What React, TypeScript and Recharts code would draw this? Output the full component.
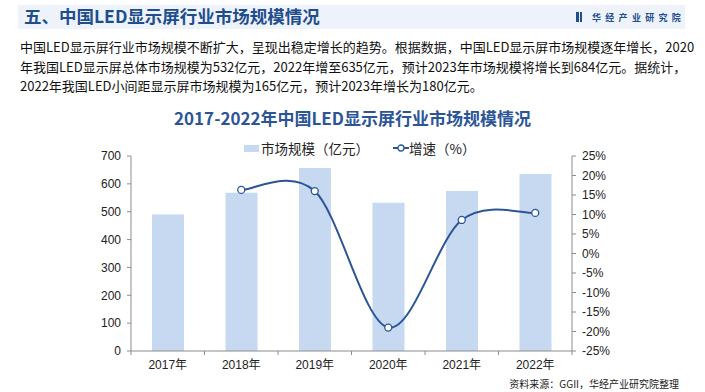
import { Bar, ComposedChart, Line, XAxis, YAxis } from "recharts";

const years = ["2017年", "2018年", "2019年", "2020年", "2021年", "2022年"];
const marketSize = [490, 568, 657, 532, 574, 635];
const growth: (number | null)[] = [null, 16.3, 16.0, -19.0, 8.6, 10.4];
const leftTicks = [0, 100, 200, 300, 400, 500, 600, 700];
const rightTicks = [-25, -20, -15, -10, -5, 0, 5, 10, 15, 20, 25];

const paragraph = [
    "中国LED显示屏行业市场规模不断扩大，呈现出稳定增长的趋势。根据数据，中国LED显示屏市场规模逐年增长，2020",
    "年我国LED显示屏总体市场规模为532亿元，2022年增至635亿元，预计2023年市场规模将增长到684亿元。据统计，",
    "2022年我国LED小间距显示屏市场规模为165亿元，预计2023年增长为180亿元。",
];

const chartData = years.map((year, i) => ({
    year,
    size: marketSize[i],
    growth: growth[i],
}));

const FONT = '"Liberation Sans", "Noto Sans CJK SC", sans-serif';
const CJK = '"Noto Sans CJK SC", "Noto Sans", sans-serif';
const BAR_COLOR = "#c6d9f1";
const LINE_COLOR = "#2b5597";
const AXIS_COLOR = "#8c8c8c";

// smooth curve through the points, like Excel's smoothed line
function smoothCurve(context: any) {
    let pts: [number, number][] = [];
    return {
        areaStart() {},
        areaEnd() {},
        lineStart() {
            pts = [];
        },
        lineEnd() {
            if (!pts.length) return;
            context.moveTo(pts[0][0], pts[0][1]);
            for (let i = 0; i < pts.length - 1; i++) {
                const p0 = pts[i - 1] || pts[i];
                const p1 = pts[i];
                const p2 = pts[i + 1];
                const p3 = pts[i + 2] || p2;
                context.bezierCurveTo(
                    p1[0] + (p2[0] - p0[0]) / 6,
                    p1[1] + (p2[1] - p0[1]) / 6,
                    p2[0] - (p3[0] - p1[0]) / 6,
                    p2[1] - (p3[1] - p1[1]) / 6,
                    p2[0],
                    p2[1]
                );
            }
        },
        point(x: number, y: number) {
            pts.push([+x, +y]);
        },
    };
}

const BAND = 440 / years.length;

function YearTick(props: any) {
    const { x, y, payload, index } = props;
    const half = payload?.offset || BAND / 2;
    return (
        <g>
            <line x1={x - half} x2={x - half} y1={y - 9} y2={y - 5} stroke={AXIS_COLOR} />
            {index === years.length - 1 && (
                <line x1={x + half} x2={x + half} y1={y - 9} y2={y - 5} stroke={AXIS_COLOR} />
            )}
            <text x={x} y={y} dy="0.71em" textAnchor="middle" fontSize={12} fill="#222" fontFamily={FONT}>
                {payload.value}
            </text>
        </g>
    );
}

export default function App() {
    return (
        <div style={{ position: "absolute", left: 0, top: 0, width: 705, height: 392, background: "#fff", overflow: "hidden" }}>
            {/* header band */}
            <div style={{ position: "absolute", left: 18, top: 5, width: 667, height: 24, background: "#eef3fb" }} />
            <div style={{ position: "absolute", left: 24, top: 4, height: 24, lineHeight: "24px", fontFamily: CJK, fontSize: 17.5, fontWeight: 700, color: "#1f4e8c", whiteSpace: "nowrap" }}>
                五、中国LED显示屏行业市场规模情况
            </div>
            <div style={{ position: "absolute", left: 576, top: 5, height: 24, display: "flex", alignItems: "center", fontFamily: CJK, fontSize: 9, fontWeight: 700, color: "#1f4e8c", whiteSpace: "nowrap", letterSpacing: 4.3 }}>
                <span style={{ display: "inline-block", width: 2.5, height: 10, background: "#1f4e8c", marginRight: 1 }} />
                <span style={{ display: "inline-block", width: 2.5, height: 10, background: "#1f4e8c", marginRight: 10 }} />
                <span>华经产业研究院</span>
            </div>

            {/* paragraph */}
            <div style={{ position: "absolute", left: 20, top: 37, fontFamily: CJK, fontSize: 13, color: "#111", lineHeight: "19.5px" }}>
                {paragraph.map((line, i) => (
                    <div key={i} style={{ whiteSpace: "nowrap" }}>
                        {line}
                    </div>
                ))}
            </div>

            {/* chart title */}
            <div style={{ position: "absolute", left: 0, width: 705, top: 105, textAlign: "center", fontFamily: CJK, fontSize: 17, fontWeight: 700, color: "#2b5597", whiteSpace: "nowrap" }}>
                2017-2022年中国LED显示屏行业市场规模情况
            </div>

            {/* legend */}
            <div style={{ position: "absolute", left: 244, top: 139, height: 18, display: "flex", alignItems: "center", fontFamily: CJK, fontSize: 13.5, color: "#222", whiteSpace: "nowrap" }}>
                <span style={{ display: "inline-block", width: 15, height: 7, background: BAR_COLOR, marginRight: 2 }} />
                <span>市场规模（亿元）</span>
                <svg width={16} height={10} style={{ marginLeft: 24 }}>
                    <line x1={0} x2={16} y1={5} y2={5} stroke={LINE_COLOR} strokeWidth={2} />
                    <circle cx={8} cy={5} r={3} fill="#fff" stroke={LINE_COLOR} strokeWidth={1.3} />
                </svg>
                <span>增速（%）</span>
            </div>

            <div style={{ position: "absolute", left: 0, top: 0 }}>
                <ComposedChart
                    width={705}
                    height={392}
                    data={chartData}
                    margin={{ top: 156, right: 73, bottom: 11, left: 71 }}
                >
                    <XAxis
                        dataKey="year"
                        stroke={AXIS_COLOR}
                        tickLine={false}
                        tick={<YearTick />}
                        tickSize={0}
                        tickMargin={9}
                        height={30}
                        interval={0}
                    />
                    <YAxis
                        yAxisId="left"
                        domain={[0, 700]}
                        ticks={leftTicks}
                        stroke={AXIS_COLOR}
                        tickSize={4}
                        tickMargin={6}
                        width={60}
                        interval={0}
                        tick={{ fontSize: 12, fill: "#222", fontFamily: FONT }}
                    />
                    <YAxis
                        yAxisId="right"
                        orientation="right"
                        domain={[-25, 25]}
                        ticks={rightTicks}
                        stroke={AXIS_COLOR}
                        tickSize={4}
                        tickMargin={6}
                        width={60}
                        interval={0}
                        tickFormatter={(v) => `${v}%`}
                        tick={{ fontSize: 12, fill: "#222", fontFamily: FONT, textAnchor: "start" }}
                    />
                    <Bar yAxisId="left" dataKey="size" fill={BAR_COLOR} barSize={32} isAnimationActive={false} />
                    <Line
                        yAxisId="right"
                        dataKey="growth"
                        type={smoothCurve as any}
                        stroke={LINE_COLOR}
                        strokeWidth={2}
                        dot={{ r: 3.5, fill: "#fff", stroke: LINE_COLOR, strokeWidth: 1.3 }}
                        activeDot={false}
                        isAnimationActive={false}
                    />
                </ComposedChart>
            </div>

            {/* source */}
            <div style={{ position: "absolute", right: 26, top: 376, fontFamily: CJK, fontSize: 10, color: "#222", whiteSpace: "nowrap" }}>
                资料来源：GGII，华经产业研究院整理
            </div>
        </div>
    );
}
